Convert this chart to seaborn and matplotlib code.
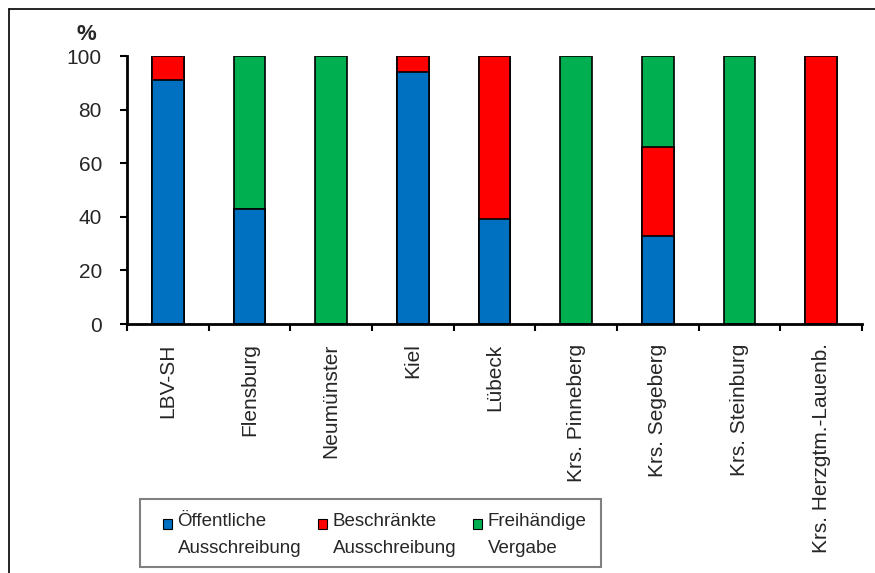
import matplotlib
matplotlib.use("Agg")
import matplotlib.pyplot as plt
import seaborn as sns
import pandas as pd
import numpy as np
from matplotlib.patches import Patch, Rectangle
from matplotlib.lines import Line2D

categories = ["LBV-SH", "Flensburg", "Neumünster", "Kiel", "Lübeck",
              "Krs. Pinneberg", "Krs. Segeberg", "Krs. Steinburg", "Krs. Herzgtm.-Lauenb."]
oeffentlich = [91, 43, 0, 94, 39, 0, 33, 0, 0]
beschraenkt = [9, 0, 0, 6, 61, 0, 33, 0, 100]
freihaendig = [0, 57, 100, 0, 0, 100, 34, 100, 0]
series_labels = ["Öffentliche\nAusschreibung", "Beschränkte\nAusschreibung", "Freihändige\nVergabe"]
colors = ["#0070C0", "#FF0000", "#00B050"]

sns.set_theme(style="white")
plt.rcParams['font.family'] = ['Liberation Sans', 'DejaVu Sans']

df = pd.DataFrame({"cat": categories,
                   "o": oeffentlich, "b": beschraenkt, "f": freihaendig})
df["c1"] = df["o"]
df["c2"] = df["o"] + df["b"]
df["c3"] = df["o"] + df["b"] + df["f"]

W, H, DPI = 875, 573, 100
fig = plt.figure(figsize=(W / DPI, H / DPI), dpi=DPI)
ax = fig.add_axes([127 / W, 1 - 324 / H, (862 - 127) / W, (324 - 56) / H])

for col, c in zip(["c3", "c2", "c1"], colors[::-1]):
    sns.barplot(data=df, x="cat", y=col, order=categories, color=c, saturation=1,
                width=0.39, edgecolor="black", linewidth=1.2, ax=ax)

ax.set_ylim(0, 100)
ax.set_xlim(-0.5, len(categories) - 0.5)
ax.set_yticks([0, 20, 40, 60, 80, 100])
ax.set_xlabel("")
ax.set_ylabel("")
for s in ["top", "right"]:
    ax.spines[s].set_visible(False)
for s in ["left", "bottom"]:
    ax.spines[s].set_color("black")
    ax.spines[s].set_linewidth(2)

ax.set_xticks(np.arange(len(categories)))
ax.set_xticklabels(categories, rotation=90, fontsize=15, va="top", ha="center")
ax.set_xticks(np.arange(len(categories) + 1) - 0.5, minor=True)
ax.tick_params(axis="x", which="major", length=0, pad=14)
ax.tick_params(axis="x", which="minor", length=5, width=1.5, direction="out", color="black", bottom=True)
ax.tick_params(axis="y", length=5, width=1.5, direction="out", color="black", left=True,
               labelsize=15, pad=13)
ax.grid(False)

fig.text(86.5 / W, 1 - 34 / H, "%", fontsize=16, fontweight="bold", ha="center", va="center")

# legend frame
fig.add_artist(Rectangle((140 / W, 1 - 567 / H), (601 - 140) / W, (567 - 499) / H,
                         transform=fig.transFigure, fill=False, edgecolor="#808080", linewidth=1.5))

LFS = 13.5
handles = [Patch(facecolor=c, edgecolor="black", linewidth=0.8) for c in colors]
leg = fig.legend(handles, series_labels, loc="upper left",
                 bbox_to_anchor=(163 / W, 1 - 513 / H), ncol=3, fontsize=LFS, frameon=False,
                 handlelength=0.48, handleheight=0.48, handletextpad=0.3,
                 borderaxespad=0, borderpad=0, columnspacing=0.9)
for t in leg.get_texts():
    t.set_linespacing(1.75)

# move markers to the first text line
fig.canvas.draw()
r = fig.canvas.get_renderer()
for h, t in zip(leg.legend_handles, leg.get_texts()):
    tb = t.get_window_extent(r)
    hb = h.get_window_extent(r)
    target = tb.y1 - 0.6 * LFS * DPI / 72
    cur = (hb.y0 + hb.y1) / 2
    h.set_y(h.get_y() + (target - cur) * 72 / DPI)

fig.add_artist(Line2D([8.5 / W, 8.5 / W], [0, 1 - 9 / H], transform=fig.transFigure,
                      color="black", linewidth=1.2))
fig.add_artist(Line2D([8.5 / W, 1], [1 - 9 / H, 1 - 9 / H], transform=fig.transFigure,
                      color="black", linewidth=1.2))

fig.savefig("out.png", dpi=DPI)
